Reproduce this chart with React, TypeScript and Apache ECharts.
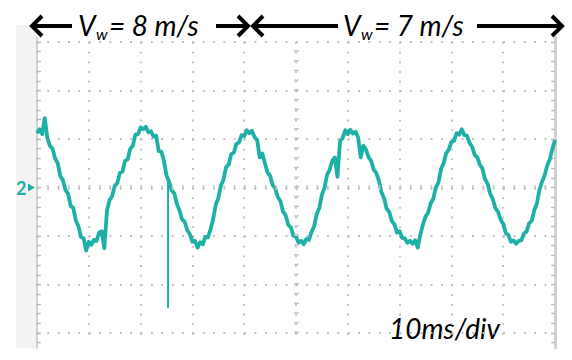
import React, { useEffect, useRef } from "react";
import * as echarts from "echarts";

// Oscilloscope trace, channel 2, sampled every 0.5 ms, values in divisions
const sampleStepMs = 0.5;
const traceValues = [
  1.12, 1.2, 1.1, 1.43, 1.02, 0.86, 0.8, 0.6, 0.5, 0.24,
  0.15, -0.05, -0.13, -0.38, -0.42, -0.68, -0.8, -1.02, -1.05, -1.3,
  -1.12, -1.18, -1.08, -1.1, -0.93, -0.9, -1.25, -0.48, -0.26, -0.18,
  0.03, 0.09, 0.3, 0.33, 0.55, 0.58, 0.8, 0.86, 1.09, 1.1,
  1.24, 1.2, 1.25, 1.14, 1.16, 1.05, 1.07, 0.75, 0.74, 0.55,
  0.25, 0.12, -0.06, -0.12, -0.34, -0.47, -0.66, -0.7, -0.88, -0.96,
  -1.12, -1.1, -1.24, -1.13, -1.17, -1.02, -1.03, -0.86, -0.66, -0.36,
  -0.22, 0.04, 0.16, 0.42, 0.47, 0.69, 0.72, 0.9, 0.93, 1.08,
  1.06, 1.18, 1.12, 1.17, 1.04, 0.98, 0.62, 0.7, 0.5, 0.31,
  0.24, 0.05, -0.02, -0.2, -0.28, -0.5, -0.57, -0.77, -0.82, -1.0,
  -1.01, -1.14, -1.1, -1.17, -1.06, -1.08, -0.92, -0.8, -0.55, -0.42,
  -0.15, -0.01, 0.26, 0.37, 0.55, 0.62, 0.22, 0.95, 1.02, 1.18,
  1.1, 1.19, 1.11, 1.15, 1.03, 0.62, 0.86, 0.78, 0.63, 0.55,
  0.37, 0.3, 0.14, -0.1, -0.22, -0.44, -0.5, -0.69, -0.76, -0.93,
  -0.9, -1.04, -1.05, -1.14, -1.1, -1.16, -1.09, -1.24, -0.97, -0.77,
  -0.6, -0.52, -0.33, -0.23, 0.0, 0.1, 0.38, 0.5, 0.71, 0.78,
  0.94, 0.96, 1.12, 1.09, 1.2, 1.08, 1.07, 0.92, 0.84, 0.67,
  0.62, 0.47, 0.39, 0.17, 0.08, -0.13, -0.24, -0.43, -0.5, -0.66,
  -0.75, -0.94, -0.98, -1.12, -1.09, -1.16, -1.1, -1.09, -0.95, -0.91,
  -0.74, -0.69, -0.47, -0.33, -0.05, 0.12, 0.25, 0.46, 0.58, 0.8,
  0.98,
];
const glitchTimes = [25.3, 25.3];
const glitchValues = [0.15, -2.48];

const speedLabels = ["= 8 m/s", "= 7 m/s"];
const timebaseLabel = "10ms/div";
const channelLabel = "2";

const TRACE = "#1db0a7";
const GRID = "#bdbdbd";
const FONT = "Lato, 'Liberation Sans', sans-serif";

export default function App() {
  const ref = useRef<HTMLDivElement>(null);

  useEffect(() => {
    if (!ref.current) return;
    const chart = echarts.init(ref.current, undefined, { renderer: "svg" });
    const traceData = traceValues.map((v, i) => [i * sampleStepMs, v]);
    const glitchData = glitchTimes.map((t, i) => [t, glitchValues[i]]);

    const hiddenX = (gridIndex: number) => ({
      gridIndex, type: "value", min: 0, max: 100, show: false,
    });
    const frameY = (position: string, width: number, color: string) => ({
      gridIndex: 0, type: "value", min: -3.3, max: 3.1, position,
      axisLine: { show: true, onZero: false, lineStyle: { color, width } },
      axisTick: { show: false }, axisLabel: { show: false }, splitLine: { show: false },
    });
    const tickY = (position: string) => ({
      gridIndex: 1, type: "value", min: -3.2, max: 3, interval: 0.2, position,
      axisLine: { show: false, onZero: false },
      axisTick: { show: true, inside: true, length: 4, lineStyle: { color: "#bbbbbb", width: 1.4 } },
      axisLabel: { show: false }, splitLine: { show: false },
    });

    const arrowLine = (points: number[][]) => ({
      type: "polyline", shape: { points },
      style: { stroke: "#000", lineWidth: 4, fill: null, lineJoin: "miter" },
    });
    const txt = (x: number, y: number, text: string, size: number, fill = "#000", italic = true, weight = "normal") => ({
      type: "text", x, y,
      style: {
        text, fill, fontSize: size, fontFamily: FONT, fontStyle: italic ? "italic" : "normal",
        fontWeight: weight,
        align: "left", textAlign: "left", verticalAlign: "middle", textVerticalAlign: "middle",
      },
    });

    chart.setOption({
      animation: false,
      backgroundColor: "#ffffff",
      grid: [
        { left: 37, right: 17, top: 37, bottom: 12 },
        { left: 37, right: 17, top: 42, bottom: 17.3 },
        { left: 37, right: 17, top: 42, bottom: 27 },
      ],
      xAxis: [
        hiddenX(0),
        {
          gridIndex: 1, type: "value", min: 0, max: 100, interval: 10,
          axisLine: { show: false, onZero: false }, axisTick: { show: false }, axisLabel: { show: false },
          splitLine: { show: true, lineStyle: { color: GRID, width: 1.8, type: [1.8, 7.9] } },
        },
        hiddenX(2),
      ],
      yAxis: [
        frameY("left", 1.5, "#c4c4c4"),
        frameY("right", 3, "#d2d2d2"),
        tickY("left"),
        tickY("right"),
        {
          gridIndex: 2, type: "value", min: -3, max: 3, interval: 1,
          axisLine: { show: false, onZero: false }, axisTick: { show: false }, axisLabel: { show: false },
          splitLine: { show: true, lineStyle: { color: GRID, width: 1.8, type: [1.8, 8.56] } },
        },
      ],
      series: [
        {
          type: "line", xAxisIndex: 2, yAxisIndex: 4, data: glitchData, symbol: "none",
          silent: true, z: 2,
          lineStyle: { color: TRACE, width: 2 },
          markLine: {
            silent: true, symbol: "none", label: { show: false },
            data: [
              { yAxis: 0, lineStyle: { color: "#c4c4c4", width: 5, type: [1.4, 8.96] } },
              { xAxis: 50, lineStyle: { color: "#c4c4c4", width: 5, type: [1.4, 8.3] } },
            ],
          },
        },
        {
          type: "line", xAxisIndex: 2, yAxisIndex: 4, data: traceData, symbol: "none",
          showSymbol: false, silent: true, z: 3,
          lineStyle: { color: TRACE, width: 3.8, join: "round" },
        },
      ],
      graphic: [
        { type: "rect", shape: { x: 16, y: 25, width: 20, height: 323 }, style: { fill: "#f3f3f3" }, z: -1 },
        // top arrows
        arrowLine([[31, 26], [72, 26]]),
        arrowLine([[42, 16], [32, 26], [42, 36]]),
        arrowLine([[216, 26], [246, 26]]),
        arrowLine([[238, 16], [248, 26], [238, 36]]),
        arrowLine([[263, 16], [253, 26], [263, 36]]),
        arrowLine([[255, 26], [338, 26]]),
        arrowLine([[477, 26], [560, 26]]),
        arrowLine([[552, 16], [562, 26], [552, 36]]),
        // labels
        txt(78, 25, "V", 28),
        txt(96, 33, "w", 16),
        txt(109, 25, speedLabels[0], 28),
        txt(343, 25, "V", 28),
        txt(361, 33, "w", 16),
        txt(374, 25, speedLabels[1], 28),
        txt(389, 328, timebaseLabel, 28),
        txt(16, 187.5, channelLabel, 18, TRACE, false, "bold"),
        { type: "polygon", shape: { points: [[28, 183.5], [35, 187.5], [28, 191.5]] }, style: { fill: TRACE } },
      ],
    });
    return () => chart.dispose();
  }, []);

  return (
    <div
      ref={ref}
      style={{ position: "absolute", left: 0, top: 0, width: 572, height: 360, background: "#fff" }}
    />
  );
}
